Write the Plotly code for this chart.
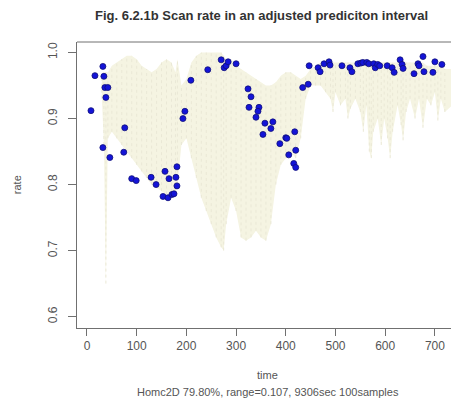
import plotly.graph_objects as go

# Prediction interval band (time, upper bound, lower bound)
band_time = [30, 34, 38, 42, 50, 60, 70, 80, 90, 100, 110, 120, 130, 140, 150, 160, 170, 178,
             182, 190, 200, 210, 220, 230, 240, 250, 260, 270, 275, 280, 290, 300, 310, 320,
             330, 340, 350, 360, 370, 380, 390, 400, 410, 420, 430, 440, 450, 460, 470, 480,
             490, 495, 500, 510, 520, 525, 530, 540, 550, 556, 562, 568, 572, 576, 585, 592,
             598, 605, 610, 615, 625, 632, 636, 642, 650, 660, 668, 676, 684, 692, 700, 706,
             712, 720, 735]
band_upper = [0.96, 0.97, 0.97, 0.97, 0.98, 0.985, 0.99, 0.995, 0.995, 0.99, 0.98, 0.975, 0.97,
              0.975, 0.985, 0.99, 0.985, 0.97, 0.99, 0.95, 0.96, 0.985, 0.995, 1.0, 1.0, 1.0,
              1.0, 1.0, 0.995, 0.99, 0.99, 0.98, 0.975, 0.97, 0.965, 0.96, 0.955, 0.95, 0.95,
              0.955, 0.965, 0.97, 0.97, 0.965, 0.96, 0.965, 0.975, 0.98, 0.985, 0.985, 0.985,
              0.985, 0.985, 0.985, 0.985, 0.985, 0.985, 0.985, 0.985, 0.985, 0.985, 0.985,
              0.985, 0.985, 0.985, 0.985, 0.985, 0.985, 0.985, 0.985, 0.985, 0.985, 0.985,
              0.985, 0.985, 0.985, 0.985, 0.985, 0.98, 0.98, 0.98, 0.98, 0.98, 0.975, 0.975]
band_lower = [0.93, 0.86, 0.65, 0.87, 0.88, 0.87, 0.86, 0.85, 0.84, 0.83, 0.82, 0.81, 0.80,
              0.795, 0.79, 0.785, 0.78, 0.79, 0.80, 0.86, 0.87, 0.84, 0.81, 0.78, 0.76, 0.74,
              0.72, 0.705, 0.70, 0.74, 0.78, 0.76, 0.72, 0.715, 0.72, 0.73, 0.72, 0.715, 0.74,
              0.80, 0.83, 0.84, 0.85, 0.84, 0.87, 0.93, 0.95, 0.95, 0.95, 0.94, 0.93, 0.91,
              0.94, 0.92, 0.93, 0.90, 0.915, 0.93, 0.91, 0.88, 0.92, 0.85, 0.84, 0.88, 0.90,
              0.86, 0.90, 0.87, 0.84, 0.88, 0.92, 0.89, 0.867, 0.91, 0.93, 0.90, 0.93, 0.886,
              0.93, 0.92, 0.94, 0.897, 0.93, 0.91, 0.92]

# Observed scan rate samples
scan_time = [8, 16, 32, 34, 36, 42, 38, 32, 46, 74, 76, 90, 99, 129, 139, 153, 163, 157, 165,
             179, 171, 175, 181, 181, 193, 197, 209, 243, 270, 276, 280, 284, 300, 324, 330,
             326, 346, 344, 340, 358, 374, 370, 354, 388, 400, 402, 418, 420, 406, 416, 420,
             434, 445, 447, 465, 469, 477, 487, 489, 513, 529, 533, 545, 551, 555, 563, 567,
             577, 580, 585, 589, 604, 614, 618, 630, 634, 636, 658, 666, 668, 676, 678, 696,
             700, 714]
scan_rate = [0.912, 0.965, 0.979, 0.964, 0.947, 0.947, 0.932, 0.856, 0.841, 0.849, 0.886,
             0.809, 0.806, 0.811, 0.800, 0.782, 0.780, 0.820, 0.809, 0.811, 0.785, 0.786,
             0.798, 0.827, 0.900, 0.911, 0.958, 0.974, 0.989, 0.977, 0.980, 0.986, 0.983,
             0.945, 0.933, 0.917, 0.917, 0.911, 0.902, 0.893, 0.895, 0.885, 0.876, 0.862,
             0.871, 0.870, 0.880, 0.852, 0.845, 0.832, 0.826, 0.947, 0.952, 0.980, 0.977,
             0.971, 0.983, 0.986, 0.981, 0.980, 0.977, 0.971, 0.983, 0.984, 0.985, 0.985,
             0.983, 0.983, 0.977, 0.982, 0.980, 0.980, 0.977, 0.970, 0.989, 0.982, 0.976,
             0.968, 0.983, 0.980, 0.994, 0.971, 0.970, 0.986, 0.982]

x_ticks = [0, 100, 200, 300, 400, 500, 600, 700]
y_ticks = [0.6, 0.7, 0.8, 0.9, 1.0]
y_tick_text = ["0.6", "0.7", "0.8", "0.9", "1.0"]

FONT = "Liberation Sans, Arial, sans-serif"
BAND = "rgb(245,244,226)"
AXIS = "#707070"

fig = go.Figure()

# Band: lower edge, then upper edge filled down to it
fig.add_trace(go.Scatter(x=band_time, y=band_lower, mode="lines",
                         line=dict(color=BAND, width=0), hoverinfo="skip", showlegend=False))
fig.add_trace(go.Scatter(x=band_time, y=band_upper, mode="lines", fill="tonexty",
                         fillcolor=BAND, line=dict(color=BAND, width=0),
                         hoverinfo="skip", showlegend=False))

# Faint vertical strokes inside the band
vx, vy = [], []
for t, u, l in zip(band_time, band_upper, band_lower):
    vx += [t, t, None]
    vy += [l, u, None]
fig.add_trace(go.Scatter(x=vx, y=vy, mode="lines",
                         line=dict(color="rgb(234,232,214)", width=1, dash="dot"),
                         hoverinfo="skip", showlegend=False))

fig.add_trace(go.Scatter(x=scan_time, y=scan_rate, mode="markers",
                         marker=dict(size=6, color="rgb(20,20,215)",
                                     line=dict(color="rgb(15,15,120)", width=0.8)),
                         showlegend=False))

fig.update_layout(
    width=451, height=404,
    margin=dict(l=77, r=0, t=42, b=76),
    paper_bgcolor="white", plot_bgcolor="white",
    font=dict(family=FONT, color="#555555", size=11),
    title=dict(text="<b>Fig. 6.2.1b Scan rate in an adjusted prediciton interval</b>",
               x=0.58, xanchor="center", y=0.962, yanchor="middle",
               font=dict(family=FONT, size=13, color="#333333")),
    xaxis=dict(range=[-20.1, 732.4], tickvals=x_ticks, ticks="outside", ticklen=7,
               tickcolor=AXIS, showline=True, linecolor=AXIS, linewidth=1,
               showgrid=False, zeroline=False,
               tickfont=dict(size=12, color="#555555")),
    yaxis=dict(range=[0.5827, 1.016], tickvals=y_ticks, ticktext=y_tick_text,
               ticks="outside", ticklen=8, tickcolor=AXIS, tickangle=-90,
               showline=True, linecolor=AXIS, linewidth=1, showgrid=False,
               zeroline=False, ticklabelstandoff=6,
               tickfont=dict(size=12, color="#555555")),
    shapes=[dict(type="line", xref="paper", yref="paper", x0=0, x1=1, y0=1, y1=1,
                 line=dict(color=AXIS, width=1))],
    annotations=[
        dict(text="time", xref="paper", yref="paper", x=0.51, y=-0.165,
             xanchor="center", yanchor="middle", showarrow=False,
             font=dict(size=11, color="#555555")),
        dict(text="Homc2D 79.80%, range=0.107, 9306sec 100samples", xref="paper",
             yref="paper", x=0.51, y=-0.225, xanchor="center", yanchor="middle",
             showarrow=False, font=dict(size=11, color="#555555")),
        dict(text="rate", xref="paper", yref="paper", x=-0.16, y=0.5,
             xanchor="center", yanchor="middle", textangle=-90, showarrow=False,
             font=dict(size=11, color="#555555")),
    ],
)

fig.write_html("out.html")
